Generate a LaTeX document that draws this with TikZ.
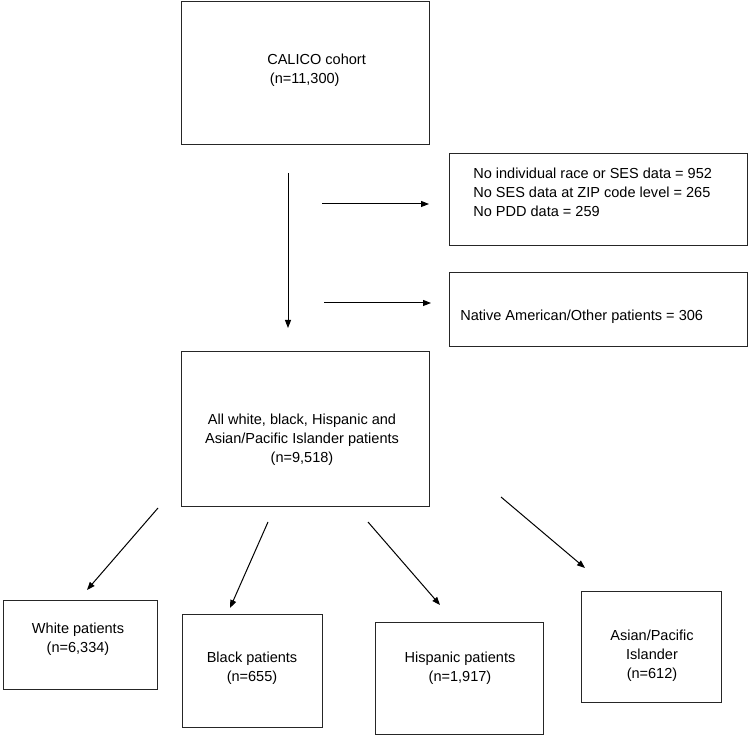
\documentclass[tikz,border=0pt]{standalone}
\usepackage{fontspec}
\setmainfont{Liberation Sans}
\usetikzlibrary{arrows.meta,fit}

\tikzset{
  box/.style={draw=black!85, line width=0.75pt, inner sep=0pt},
  txt/.style={font=\fontsize{10.9}{14.25}\selectfont, inner sep=0pt, align=center},
  arr/.style={-{Triangle[length=6pt,width=4.5pt]}, line width=0.75pt},
}

\begin{document}
\begin{tikzpicture}[x=0.75pt,y=-0.75pt]
\useasboundingbox (0,0) rectangle (750,737);

% boxes
\node[box, fit={(181,2) (429,145)}] (cohort) {};
\node[box, fit={(449,154) (747,246)}] (nodata) {};
\node[box, fit={(449,273) (747,347)}] (other) {};
\node[box, fit={(181,352) (429,507)}] (all) {};
\node[box, fit={(3,601) (157,689)}] (white) {};
\node[box, fit={(182,615) (322,727)}] (black) {};
\node[box, fit={(375,623) (543,734)}] (hisp) {};
\node[box, fit={(581,592) (721,702)}] (asian) {};

% texts
\node[txt, align=left, anchor=west] (tcohort) at (267,70) {CALICO cohort\\\hspace{2pt}(n=11,300)};
\node[txt, align=left, anchor=west] (tnodata) at (473,192) {No individual race or SES data = 952\\No SES data at ZIP code level = 265\\No PDD data = 259};
\node[txt, anchor=west] (tother) at (460,317) {Native American/Other patients = 306};
\node[txt] (tall) at (302,440) {All white, black, Hispanic and\\Asian/Pacific Islander patients\\(n=9,518)};
\node[txt] (twhite) at (78,639) {White patients\\(n=6,334)};
\node[txt] (tblack) at (252,668) {Black patients\\(n=655)};
\node[txt] (thisp) at (460,668) {Hispanic patients\\(n=1,917)};
\node[txt] (tasian) at (652,656) {Asian/Pacific\\Islander\\(n=612)};

% arrow ends
\coordinate (d0) at (288,173);  \coordinate (d1) at (288,328);
\coordinate (e0) at (322,204);  \coordinate (e1) at (429,204);
\coordinate (o0) at (324,303);  \coordinate (o1) at (431,303);
\coordinate (w0) at (158,508);  \coordinate (w1) at (87,590);
\coordinate (b0) at (268,522);  \coordinate (b1) at (230,608);
\coordinate (h0) at (368,522);  \coordinate (h1) at (440,605);
\coordinate (a0) at (501,497);  \coordinate (a1) at (585,568);

\draw[arr] (d0) -- (d1);
\draw[arr] (e0) -- (e1);
\draw[arr] (o0) -- (o1);
\draw[arr] (w0) -- (w1);
\draw[arr] (b0) -- (b1);
\draw[arr] (h0) -- (h1);
\draw[arr] (a0) -- (a1);

\end{tikzpicture}
\end{document}
